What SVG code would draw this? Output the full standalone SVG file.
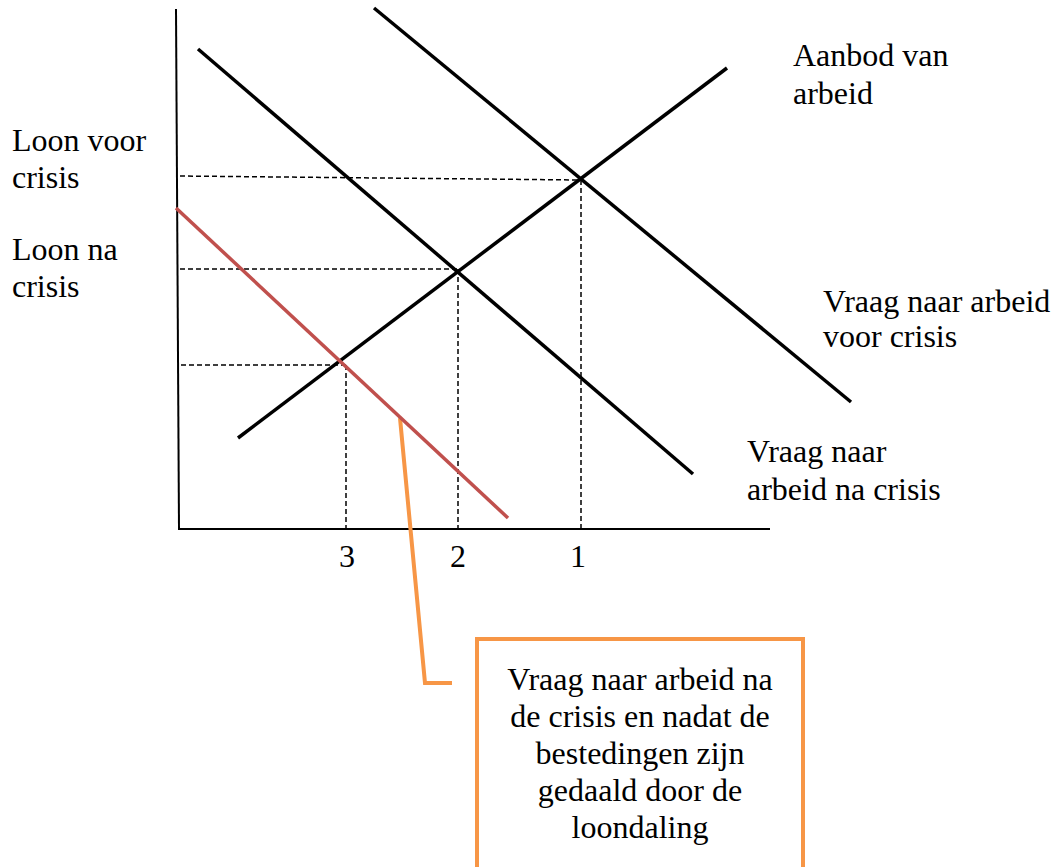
<svg xmlns="http://www.w3.org/2000/svg" width="1054" height="867" viewBox="0 0 1054 867">
<style>
text{font-family:'Times New Roman','Liberation Serif',Times,'DejaVu Serif',serif;font-size:32px;fill:#000}
.c{text-anchor:middle}
.curve{stroke:#000;stroke-width:3.5;fill:none}
.axis{stroke:#000;stroke-width:2;fill:none}
.dash{stroke:#000;stroke-width:1.5;stroke-dasharray:5,3;fill:none}
</style>
<rect width="1054" height="867" fill="#fff"/>
<g id="axes">
<line class="axis" x1="176" y1="9" x2="179" y2="529"/>
<line class="axis" x1="178" y1="529" x2="770" y2="529"/>
</g>
<g id="connectors">
<line class="dash" x1="180" y1="176" x2="581" y2="180"/>
<line class="dash" x1="581" y1="180" x2="581" y2="529"/>
<line class="dash" x1="180" y1="269" x2="458" y2="269"/>
<line class="dash" x1="458" y1="269" x2="458" y2="529"/>
<line class="dash" x1="181" y1="365" x2="346" y2="365"/>
<line class="dash" x1="346" y1="365" x2="346" y2="529"/>
<polyline points="400,418 425,683 452,683" fill="none" stroke="#F79646" stroke-width="4"/>
</g>
<g id="demand-before">
<line class="curve" x1="374" y1="8" x2="851" y2="402"/>
</g>
<g id="demand-after">
<line class="curve" x1="198" y1="49" x2="693" y2="474"/>
</g>
<g id="supply">
<line class="curve" x1="238" y1="438" x2="727" y2="68"/>
</g>
<g id="demand-after-spending">
<line x1="176" y1="208" x2="508" y2="518" stroke="#C0504D" stroke-width="3.5"/>
</g>
<g id="labels">
<text x="793" y="66">Aanbod van</text>
<text x="793" y="104">arbeid</text>
<text x="12" y="151">Loon voor</text>
<text x="12" y="188">crisis</text>
<text x="12" y="260">Loon na</text>
<text x="12" y="297">crisis</text>
<text x="823" y="312">Vraag naar arbeid</text>
<text x="823" y="347">voor crisis</text>
<text x="747" y="462">Vraag naar</text>
<text x="747" y="500">arbeid na crisis</text>
<text class="c" x="347" y="567">3</text>
<text class="c" x="458" y="567">2</text>
<text class="c" x="578" y="567">1</text>
</g>
<g id="callout-box">
<rect x="477" y="639" width="326" height="240" fill="#fff" stroke="#F79646" stroke-width="4"/>
<text class="c" x="640" y="690">Vraag naar arbeid na</text>
<text class="c" x="640" y="727">de crisis en nadat de</text>
<text class="c" x="640" y="764">bestedingen zijn</text>
<text class="c" x="640" y="801">gedaald door de</text>
<text class="c" x="640" y="838">loondaling</text>
</g>
</svg>
